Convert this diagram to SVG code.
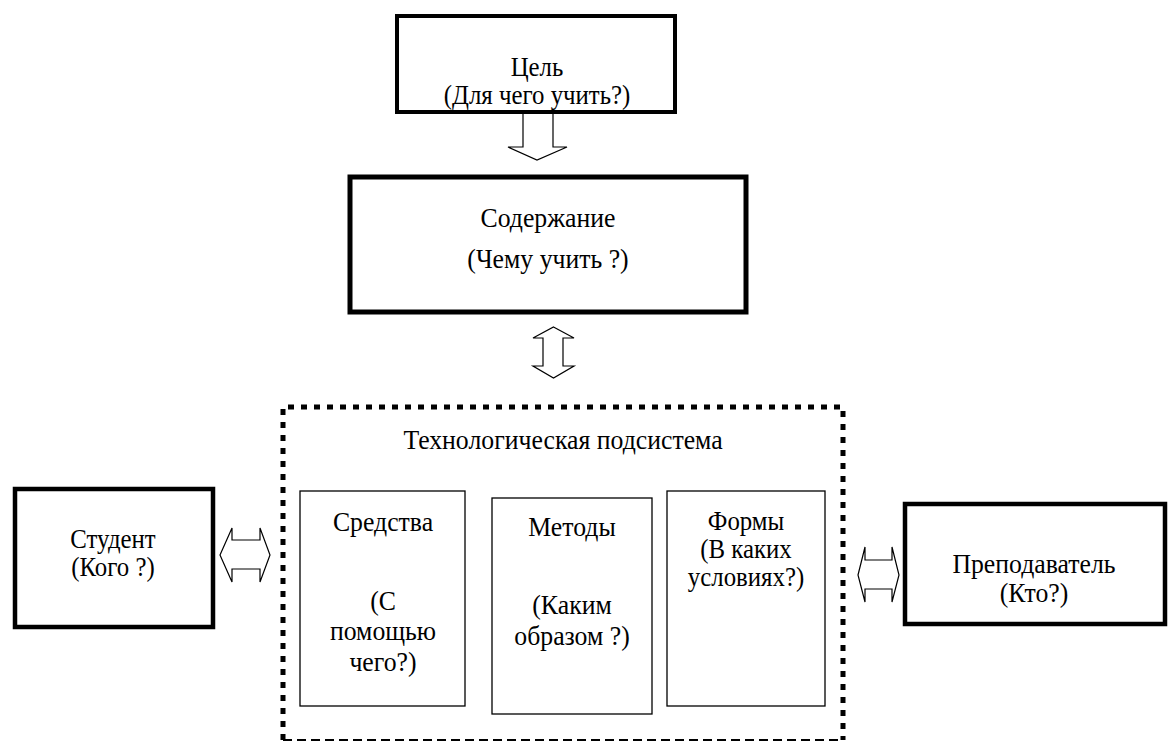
<svg xmlns="http://www.w3.org/2000/svg" width="1176" height="745" viewBox="0 0 1176 745">
<style>
text{font-family:"Liberation Serif","Times New Roman",serif;font-size:28px;fill:#000;text-anchor:middle}
.s{font-size:27px}
.thick{fill:#fff;stroke:#000;stroke-width:4}
.thin{fill:#fff;stroke:#000;stroke-width:1.3}
.arr{fill:#fff;stroke:#000;stroke-width:1.2;stroke-linejoin:miter}
</style>
<rect width="1176" height="745" fill="#fff"/>
<g id="connectors">
<polygon class="arr" points="523,113 553,113 553,147 567,147 537,160 508,147 523,147"/>
<polygon class="arr" points="553.5,327 574,338 563,338 563,366 574,366 553.5,378 533,366 543,366 543,338 533,338"/>
<polygon class="arr" points="220,555 232,528 232,540 260,540 260,528 270,555 260,582 260,569 232,569 232,582"/>
<polygon class="arr" points="858,575 865,547 865,560 892,560 892,547 899,575 892,602 892,589 865,589 865,602"/>
</g>
<g id="goal">
<rect class="thick" x="397" y="16" width="278" height="96" stroke-width="3"/>
<text class="s" transform="translate(537,76) scale(0.92,1)">Цель</text>
<text class="s" transform="translate(537,104) scale(0.92,1)">(Для чего учить?)</text>
</g>
<g id="content">
<rect class="thick" x="350" y="177" width="396" height="135" style="stroke-width:5"/>
<text transform="translate(548,227) scale(0.92,1)">Содержание</text>
<text transform="translate(548,268) scale(0.92,1)">(Чему учить ?)</text>
</g>
<g id="techsystem">
<path d="M283,740 V407 H843 V740" fill="none" stroke="#000" stroke-width="5" stroke-dasharray="6 7"/>
<path d="M283,740 H843" fill="none" stroke="#000" stroke-width="2" stroke-dasharray="9 5"/>
<text transform="translate(563,449) scale(0.92,1)">Технологическая подсистема</text>
</g>
<g id="means">
<rect class="thin" x="300" y="491" width="165" height="215"/>
<text transform="translate(383,531) scale(0.92,1)">Средства</text>
<text transform="translate(383,610) scale(0.92,1)">(С</text>
<text transform="translate(383,640) scale(0.92,1)">помощью</text>
<text transform="translate(383,671) scale(0.92,1)">чего?)</text>
</g>
<g id="methods">
<rect class="thin" x="492" y="498" width="160" height="216"/>
<text transform="translate(572,536) scale(0.92,1)">Методы</text>
<text transform="translate(572,614) scale(0.92,1)">(Каким</text>
<text transform="translate(572,645) scale(0.92,1)">образом ?)</text>
</g>
<g id="forms">
<rect class="thin" x="667" y="491" width="158" height="215"/>
<text class="s" transform="translate(746,530) scale(0.92,1)">Формы</text>
<text class="s" transform="translate(746,558) scale(0.92,1)">(В каких</text>
<text class="s" transform="translate(746,586) scale(0.92,1)">условиях?)</text>
</g>
<g id="student">
<rect class="thick" x="15" y="489" width="198" height="138" style="stroke-width:4.5"/>
<text class="s" transform="translate(113,548) scale(0.92,1)">Студент</text>
<text class="s" transform="translate(113,576) scale(0.92,1)">(Кого ?)</text>
</g>
<g id="teacher">
<rect class="thick" x="905" y="504" width="260" height="120" style="stroke-width:4.5"/>
<text transform="translate(1034,573) scale(0.92,1)">Преподаватель</text>
<text transform="translate(1034,602) scale(0.92,1)">(Кто?)</text>
</g>
</svg>
